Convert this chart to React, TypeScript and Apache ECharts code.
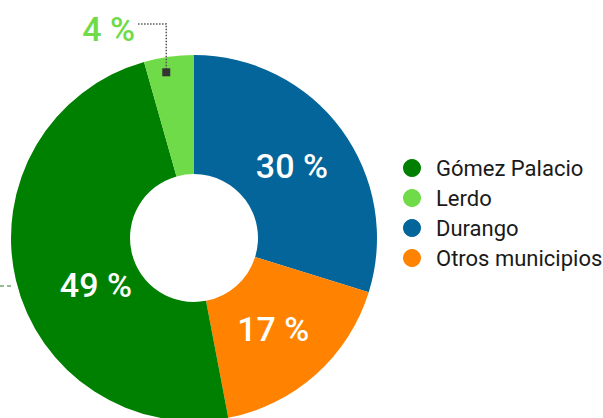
import React, { useEffect, useRef } from "react";
import * as echarts from "echarts";

const categories = ["Durango", "Otros municipios", "Gómez Palacio", "Lerdo"];
const values = [29.8, 17.2, 48.6, 4.4];
const colors = ["#04659a", "#ff8200", "#008000", "#6fdb48"];
const legendOrder = ["Gómez Palacio", "Lerdo", "Durango", "Otros municipios"];
const labelOffsets = [
  [-4, 3],
  [-5, -3],
  [25, 18],
  [-68, -84],
];

const CX = 194;
const CY = 238;
const R_IN = 64;
const R_OUT = 183;

export default function App() {
  const ref = useRef<HTMLDivElement>(null);
  useEffect(() => {
    if (!ref.current) return;
    const chart = echarts.init(ref.current, null, { renderer: "svg" });
    const total = values.reduce((a, b) => a + b, 0);
    const before = values.slice(0, 3).reduce((a, b) => a + b, 0);
    const lerdoStart = 90 - (before / total) * 360;
    const lerdoSpan = (values[3] / total) * 360;
    const ang = ((lerdoStart - lerdoSpan * 0.4) * Math.PI) / 180;
    const mr = 168;
    const mx = CX + mr * Math.cos(ang);
    const my = CY - mr * Math.sin(ang);

    chart.setOption({
      animation: false,
      color: colors,
      legend: {
        orient: "vertical",
        left: 403,
        top: 157,
        padding: 0,
        icon: "circle",
        itemWidth: 18,
        itemHeight: 18,
        itemGap: 8,
        data: legendOrder,
        textStyle: {
          fontFamily: "Roboto",
          fontSize: 22,
          lineHeight: 18,
          color: "#1a1a1a",
          padding: [0, 0, 0, 10],
        },
      },
      series: [
        {
          type: "pie",
          center: [CX, CY],
          radius: [R_IN, R_OUT],
          startAngle: 90,
          clockwise: true,
          avoidLabelOverlap: false,
          label: {
            show: true,
            position: "inside",
            formatter: (p: any) => `${Math.round(p.value)} %`,
            fontFamily: "Roboto",
            fontSize: 34,
            fontWeight: 500,
            color: "#ffffff",
          },
          labelLine: { show: false },
          labelLayout: (p: any) => {
            const o = labelOffsets[p.dataIndex];
            return { dx: o[0], dy: o[1] };
          },
          emphasis: { disabled: true },
          data: categories.map((c, i) => ({
            name: c,
            value: values[i],
            itemStyle: { color: colors[i] },
            label: i === 3 ? { color: "#6fdb48" } : undefined,
          })),
        },
      ],
      graphic: [
        {
          type: "polyline",
          shape: {
            points: [
              [mx, my],
              [mx, 24],
              [138, 24],
            ],
          },
          style: { stroke: "#555", lineWidth: 1.5, lineDash: [1.5, 1.5], fill: null },
          z: 10,
        },
        {
          type: "rect",
          shape: { x: mx - 4, y: my - 4, width: 8, height: 8 },
          style: { fill: "#333" },
          z: 11,
        },
        {
          type: "line",
          shape: { x1: 0, y1: 286, x2: 13, y2: 286 },
          style: { stroke: "#2f7a2f", lineWidth: 1, lineDash: [4, 3] },
        },
      ],
    });
    return () => chart.dispose();
  }, []);
  return (
    <div
      ref={ref}
      style={{ position: "fixed", left: 0, top: 0, width: 603, height: 418, background: "#fff" }}
    />
  );
}
